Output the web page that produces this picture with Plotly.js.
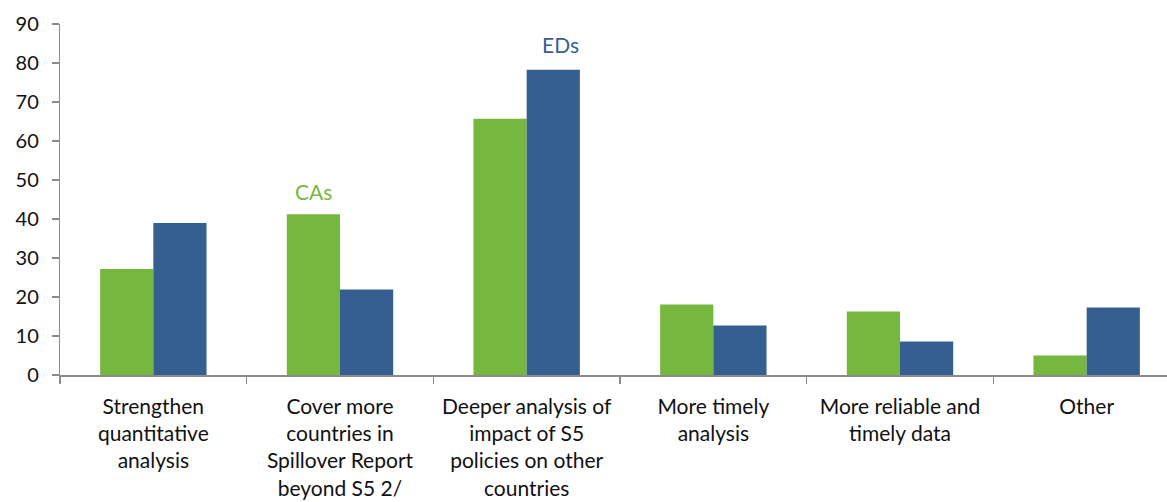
<!DOCTYPE html>
<html>
<head>
<meta charset="utf-8">
<script src="https://cdn.plot.ly/plotly-3.0.1.min.js"></script>
<style>
  html, body { margin: 0; padding: 0; overflow: hidden; background: #fff; }
  #chart { width: 1190px; height: 502px; }
</style>
</head>
<body>
<div id="chart"></div>
<script>
// Survey responses: suggested improvements, share of respondents (%)
const categories = [
  "Strengthen<br>quantitative<br>analysis",
  "Cover more<br>countries in<br>Spillover Report<br>beyond S5 2/",
  "Deeper analysis of<br>impact of S5<br>policies on other<br>countries",
  "More timely<br>analysis",
  "More reliable and<br>timely data",
  "Other"
];
const seriesNames = ["CAs", "EDs"];
const casValues = [27.2, 41.2, 65.7, 18.1, 16.3, 5.0];
const edsValues = [39.0, 21.9, 78.3, 12.7, 8.6, 17.3];
const yTicks = [0, 10, 20, 30, 40, 50, 60, 70, 80, 90];

const green = "#76B83F";
const blue = "#365F91";
const font = "Lato, 'Open Sans', sans-serif";

const traces = [
  { type: "bar", name: seriesNames[0], x: categories, y: casValues,
    marker: { color: green }, hoverinfo: "y" },
  { type: "bar", name: seriesNames[1], x: categories, y: edsValues,
    marker: { color: blue }, hoverinfo: "y" }
];

const layout = {
  width: 1190,
  height: 502,
  margin: { l: 60, r: 10, t: 24, b: 127 },
  paper_bgcolor: "#fff",
  plot_bgcolor: "#fff",
  showlegend: false,
  barmode: "group",
  bargap: 0.43,
  bargroupgap: 0,
  font: { family: font, size: 20, color: "#111" },
  xaxis: {
    type: "category",
    showgrid: false,
    showline: true,
    linecolor: "#8c8c8c",
    linewidth: 1.6,
    ticks: "outside",
    tickson: "boundaries",
    ticklen: 7,
    tickcolor: "#8c8c8c",
    tickwidth: 1.6,
    tickangle: 0,
    ticklabelstandoff: 12,
    tickfont: { family: font, size: 21, color: "#111" },
    fixedrange: true
  },
  yaxis: {
    range: [0, 90],
    tickvals: yTicks,
    ticktext: yTicks.map(String),
    showgrid: false,
    zeroline: false,
    showline: true,
    linecolor: "#8c8c8c",
    linewidth: 1.2,
    ticks: "outside",
    ticklen: 7,
    tickcolor: "#8c8c8c",
    tickwidth: 1.2,
    ticklabelstandoff: 9,
    tickfont: { family: font, size: 20, color: "#111" },
    fixedrange: true
  },
  annotations: [
    { x: categories[1], y: casValues[1], xref: "x", yref: "y",
      text: seriesNames[0], showarrow: false, yanchor: "bottom",
      xshift: -27, yshift: 8, font: { family: font, size: 21, color: green } },
    { x: categories[2], y: edsValues[2], xref: "x", yref: "y",
      text: seriesNames[1], showarrow: false, yanchor: "bottom",
      xshift: 34, yshift: 11, font: { family: font, size: 21, color: blue } }
  ]
};

Plotly.newPlot("chart", traces, layout, { displayModeBar: false, staticPlot: true });
</script>
</body>
</html>
